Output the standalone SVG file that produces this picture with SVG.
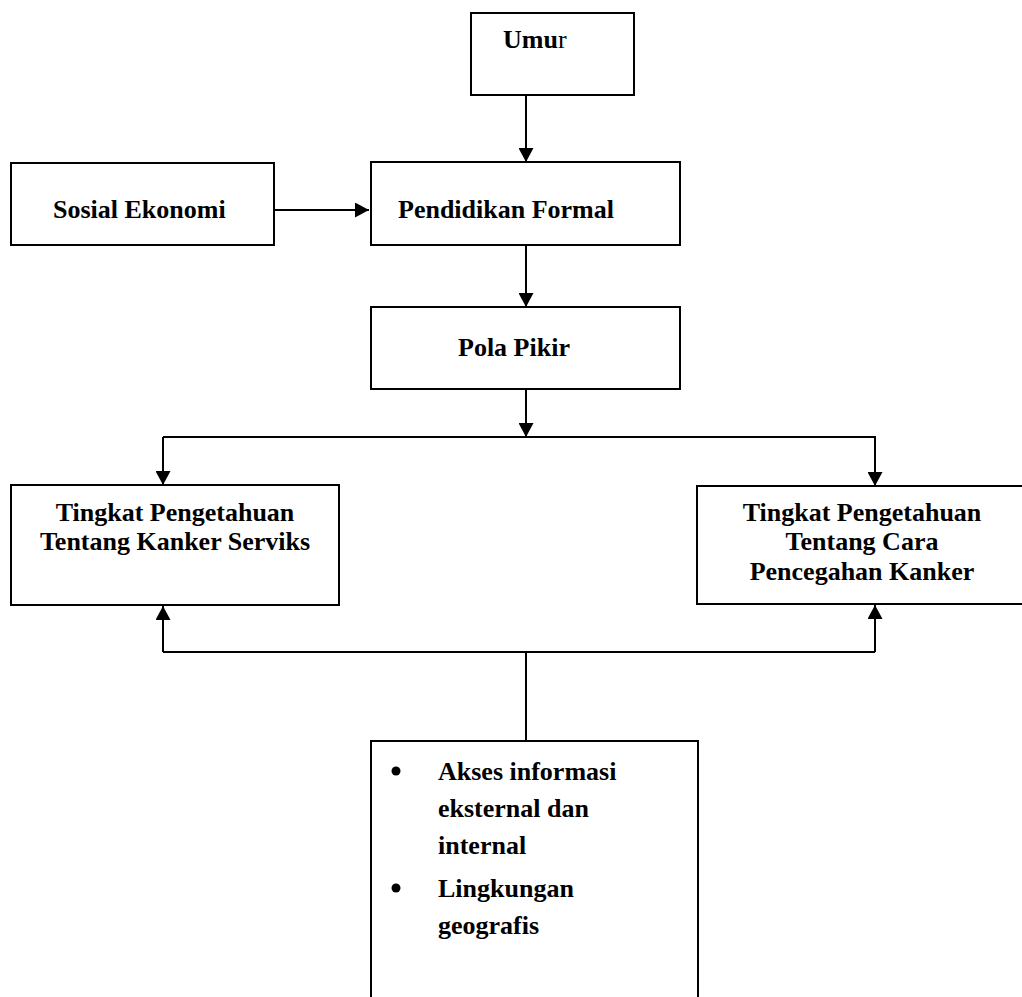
<svg xmlns="http://www.w3.org/2000/svg" width="1022" height="997" viewBox="0 0 1022 997">
<style>
.box{fill:#fff;stroke:#000;stroke-width:2}
.ln{fill:none;stroke:#000;stroke-width:2}
text{font-family:"Liberation Serif","Times New Roman",serif;font-size:26px;font-weight:bold;fill:#000}
.c{text-anchor:middle}
</style>
<defs>
<marker id="ah" markerWidth="15" markerHeight="15" refX="14" refY="7.5" orient="auto" markerUnits="userSpaceOnUse">
<path d="M0,0 L14,7.5 L0,15 Z" fill="#000"/>
</marker>
<clipPath id="frag"><rect x="800" y="592" width="120" height="5"/></clipPath>
</defs>
<rect width="1022" height="997" fill="#fff"/>
<g id="connectors">
<line class="ln" x1="526" y1="95" x2="526" y2="162" marker-end="url(#ah)"/>
<line class="ln" x1="274" y1="210" x2="369" y2="210" marker-end="url(#ah)"/>
<line class="ln" x1="526" y1="245" x2="526" y2="307" marker-end="url(#ah)"/>
<line class="ln" x1="526" y1="389" x2="526" y2="437" marker-end="url(#ah)"/>
<polyline class="ln" points="163,437 875,437 875,486" marker-end="url(#ah)"/>
<line class="ln" x1="163" y1="437" x2="163" y2="485" marker-end="url(#ah)"/>
<line class="ln" x1="163" y1="652" x2="163" y2="606" marker-end="url(#ah)"/>
<line class="ln" x1="875" y1="652" x2="875" y2="605" marker-end="url(#ah)"/>
<line class="ln" x1="163" y1="652" x2="875" y2="652"/>
<line class="ln" x1="526" y1="652" x2="526" y2="741"/>
</g>
<g id="umur">
<rect class="box" x="471" y="13" width="163" height="82"/>
<text x="503" y="48">Umu<tspan font-weight="normal">r</tspan></text>
</g>
<g id="sosial-ekonomi">
<rect class="box" x="11" y="163" width="263" height="82"/>
<text x="53" y="218">Sosial Ekonomi</text>
</g>
<g id="pendidikan-formal">
<rect class="box" x="371" y="162" width="309" height="83"/>
<text x="398" y="218">Pendidikan Formal</text>
</g>
<g id="pola-pikir">
<rect class="box" x="371" y="307" width="309" height="82"/>
<text x="458" y="356">Pola Pikir</text>
</g>
<g id="pengetahuan-kanker">
<rect class="box" x="11" y="485" width="328" height="120"/>
<text class="c" x="175" y="521">Tingkat Pengetahuan</text>
<text class="c" x="175" y="550">Tentang Kanker Serviks</text>
</g>
<g id="pengetahuan-pencegahan">
<rect class="box" x="697" y="486" width="340" height="118"/>
<text class="c" x="862" y="521">Tingkat Pengetahuan</text>
<text class="c" x="862" y="550">Tentang Cara</text>
<text class="c" x="862" y="580">Pencegahan Kanker</text>
<text class="c" x="862" y="615" clip-path="url(#frag)">Serviks</text>
</g>
<g id="faktor-lain">
<path class="box" d="M371,1000 L371,741 L698,741 L698,1000"/>
<circle cx="396" cy="771" r="4.5" fill="#000"/>
<circle cx="396" cy="888" r="4.5" fill="#000"/>
<text x="438" y="780">Akses informasi</text>
<text x="438" y="817">eksternal dan</text>
<text x="438" y="854">internal</text>
<text x="438" y="897">Lingkungan</text>
<text x="438" y="934">geografis</text>
</g>
</svg>
